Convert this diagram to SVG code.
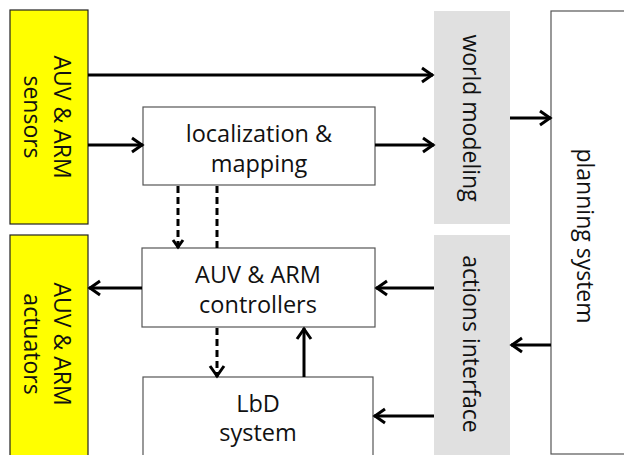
<svg xmlns="http://www.w3.org/2000/svg" width="624" height="455" viewBox="0 0 624 455">
<defs>
<style>
.box{fill:#fff;stroke:#555;stroke-width:1.2}
.yel{fill:#ffff00;stroke:#222;stroke-width:1.2}
.gray{fill:#e0e0e0;stroke:none}
.t{font-family:"Open Sans","Liberation Sans",sans-serif;font-size:23.5px;fill:#111;text-anchor:middle}
.r{font-size:23px}
.c{stroke:#000;stroke-width:3;fill:none}
.d{stroke:#000;stroke-width:3;fill:none;stroke-dasharray:7 4}
</style>
<marker id="ah" markerUnits="userSpaceOnUse" viewBox="-14 -9 16 18" refX="0" refY="0" markerWidth="16" markerHeight="18" orient="auto">
<path d="M-11,-7 L-1,0 L-11,7" fill="none" stroke="#000" stroke-width="3"/>
</marker>
<marker id="ahs" markerUnits="userSpaceOnUse" viewBox="-12 -8 14 16" refX="0" refY="0" markerWidth="14" markerHeight="16" orient="auto">
<path d="M-8,-5 L-1,0 L-8,5" fill="none" stroke="#000" stroke-width="3"/>
</marker>
</defs>
<rect width="624" height="455" fill="#fff"/>

<g id="sensors">
<rect class="yel" x="10" y="10" width="78" height="214"/>
<text class="t r" transform="translate(46,117) rotate(90)"><tspan x="0" y="-8">AUV &amp; ARM</tspan><tspan x="0" y="22">sensors</tspan></text>
</g>
<g id="actuators">
<rect class="yel" x="10" y="235" width="78" height="225"/>
<text class="t r" transform="translate(46,344) rotate(90)"><tspan x="0" y="-8">AUV &amp; ARM</tspan><tspan x="0" y="22">actuators</tspan></text>
</g>
<g id="localization">
<rect class="box" x="143" y="107" width="232" height="78"/>
<text class="t" x="259" y="142">localization &amp;</text>
<text class="t" x="259" y="172">mapping</text>
</g>
<g id="controllers">
<rect class="box" x="142" y="248" width="233" height="79"/>
<text class="t" x="258" y="283">AUV &amp; ARM</text>
<text class="t" x="258" y="313">controllers</text>
</g>
<g id="lbd">
<rect class="box" x="143" y="377" width="230" height="90"/>
<text class="t" x="258" y="412">LbD</text>
<text class="t" x="258" y="441">system</text>
</g>
<g id="world">
<rect class="gray" x="434" y="11" width="76" height="213"/>
<text class="t r" transform="translate(463,118) rotate(90)" y="0">world modeling</text>
</g>
<g id="actions">
<rect class="gray" x="434" y="235" width="76" height="225"/>
<text class="t r" transform="translate(463,344) rotate(90)" y="0">actions interface</text>
</g>
<g id="planning">
<rect class="box" x="551" y="11" width="90" height="443"/>
<text class="t r" transform="translate(577,236) rotate(90)" y="0">planning system</text>
</g>

<g id="connectors">
<line class="c" x1="88" y1="75" x2="433" y2="75" marker-end="url(#ah)"/>
<line class="c" x1="88" y1="145" x2="143" y2="145" marker-end="url(#ah)"/>
<line class="c" x1="375" y1="145" x2="434" y2="145" marker-end="url(#ah)"/>
<line class="c" x1="510" y1="118" x2="551" y2="118" marker-end="url(#ah)"/>
<line class="c" x1="551" y1="345" x2="511" y2="345" marker-end="url(#ah)"/>
<line class="c" x1="434" y1="288" x2="376" y2="288" marker-end="url(#ah)"/>
<line class="c" x1="434" y1="416" x2="374" y2="416" marker-end="url(#ah)"/>
<line class="c" x1="142" y1="288" x2="89" y2="288" marker-end="url(#ah)"/>
<line class="c" x1="304" y1="377" x2="304" y2="328" marker-end="url(#ah)"/>
<line class="d" x1="178" y1="186" x2="178" y2="248" marker-end="url(#ahs)"/>
<line class="d" x1="217" y1="186" x2="217" y2="248"/>
<line class="d" x1="217" y1="328" x2="217" y2="377" marker-end="url(#ah)"/>
</g>
</svg>
